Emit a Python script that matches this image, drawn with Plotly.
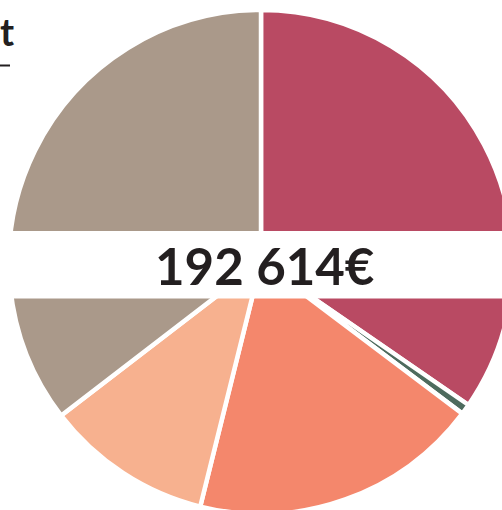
import plotly.graph_objects as go

# Data
categories = ["Catégorie A", "Catégorie B", "Catégorie C", "Catégorie D", "Catégorie E"]
values = [66650, 1290, 35830, 20600, 68244]
colors = ["#B94A63", "#4E6B5E", "#F4876C", "#F7B18F", "#AA998A"]
total_label = "192 614€"
title_tail = "t"

W, H = 520, 520
cx, cy, r = 261, 262, 252  # pixel geometry of the pie


def px(x):
    return x / W


def py(y):
    return 1 - y / H


fig = go.Figure(
    go.Pie(
        labels=categories,
        values=values,
        sort=False,
        direction="clockwise",
        rotation=0,
        marker=dict(colors=colors, line=dict(color="white", width=4.5)),
        textinfo="none",
        hoverinfo="label+value+percent",
        showlegend=False,
        domain=dict(x=[px(cx - r), px(cx + r)], y=[py(cy + r), py(cy - r)]),
    )
)

# white band across the middle
fig.add_shape(type="rect", xref="paper", yref="paper",
              x0=0, x1=1, y0=py(298.5), y1=py(231),
              fillcolor="white", line=dict(width=0), layer="above")

fig.add_annotation(x=px(264), y=py(265), xref="paper", yref="paper",
                   text=f"<b>{total_label}</b>", showarrow=False,
                   font=dict(family="Lato", size=51, color="#231F20"),
                   xanchor="center", yanchor="middle")

# title remainder with underline
fig.add_annotation(x=px(0), y=py(31), xref="paper", yref="paper",
                   text=f"<b>{title_tail}</b>", showarrow=False,
                   font=dict(family="Lato", size=38, color="#231F20"),
                   xanchor="left", yanchor="middle", xshift=-2)
fig.add_shape(type="line", xref="paper", yref="paper",
              x0=0, x1=px(10), y0=py(65.5), y1=py(65.5),
              line=dict(color="#231F20", width=2))

fig.update_layout(width=W, height=H, margin=dict(l=0, r=0, t=0, b=0),
                  paper_bgcolor="white", plot_bgcolor="white")

fig.write_html("out.html",
               post_script="document.documentElement.style.overflow='hidden';document.body.style.overflow='hidden';document.body.style.margin='0';")
